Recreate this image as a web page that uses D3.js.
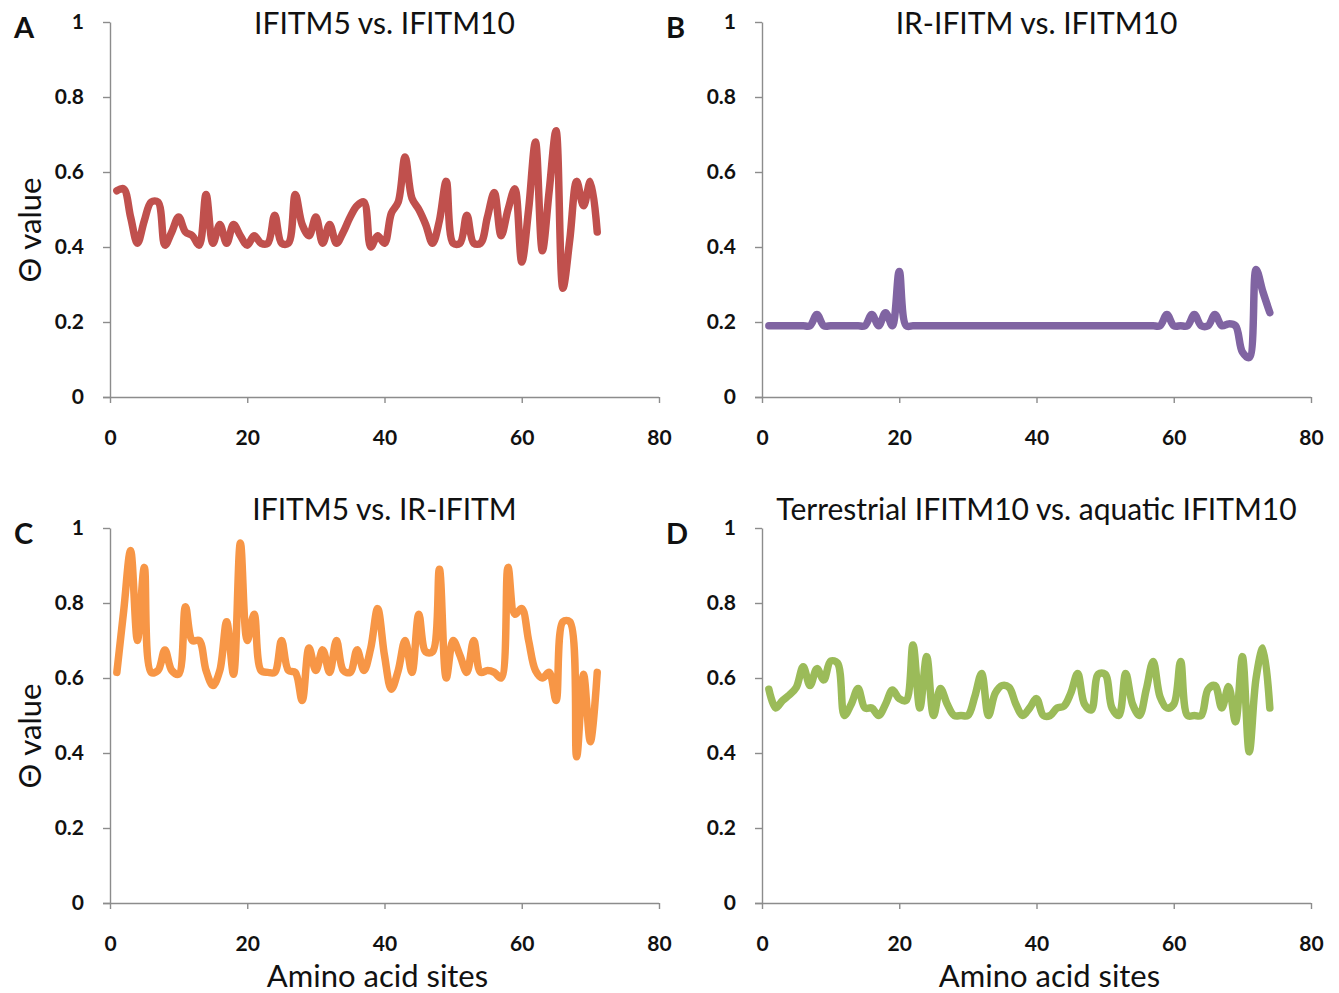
<!DOCTYPE html>
<html>
<head>
<meta charset="utf-8">
<script src="https://d3js.org/d3.v7.min.js"></script>
<style>
body { margin: 0; background: #fff; }
svg { display: block; font-family: Lato, "Open Sans", sans-serif; }
.axis path, .axis line { stroke: #8c8c8c; stroke-width: 1.4px; }
.axis text { font-family: Lato, sans-serif; font-weight: bold; font-size: 21px; fill: #111; }
.title { font-size: 30px; fill: #111; }
.label { font-size: 31px; fill: #111; }
.letter { font-size: 29px; font-weight: bold; fill: #111; }
.series { fill: none; stroke-width: 7.5px; stroke-linecap: round; stroke-linejoin: round; }
</style>
</head>
<body>
<svg width="1339" height="993"></svg>
<script>
// chart values
const xTicks = [0, 20, 40, 60, 80];
const yTicks = [0, 0.2, 0.4, 0.6, 0.8, 1];
const titles = ["IFITM5 vs. IFITM10", "IR-IFITM vs. IFITM10", "IFITM5 vs. IR-IFITM", "Terrestrial IFITM10 vs. aquatic IFITM10"];
const letters = ["A", "B", "C", "D"];
const colors = ["#c0504d", "#8064a2", "#f79646", "#9bbb59"];

const valuesA = [0.55, 0.555, 0.48, 0.41, 0.47, 0.52, 0.52, 0.405, 0.44, 0.48,
  0.44, 0.43, 0.405, 0.54, 0.41, 0.46, 0.41, 0.46, 0.43, 0.405,
  0.43, 0.41, 0.41, 0.485, 0.41, 0.41, 0.54, 0.46, 0.43, 0.48,
  0.41, 0.46, 0.41, 0.44, 0.48, 0.51, 0.52, 0.40, 0.43, 0.41,
  0.49, 0.52, 0.64, 0.53, 0.50, 0.46, 0.41, 0.47, 0.575, 0.41,
  0.41, 0.485, 0.41, 0.41, 0.48, 0.545, 0.43, 0.50, 0.555, 0.36,
  0.50, 0.68, 0.39, 0.55, 0.71, 0.29, 0.42, 0.575, 0.51, 0.575,
  0.44];

const valuesB = [0.19, 0.19, 0.19, 0.19, 0.19, 0.19, 0.19, 0.22, 0.19, 0.19,
  0.19, 0.19, 0.19, 0.19, 0.19, 0.22, 0.19, 0.225, 0.19, 0.335,
  0.19, 0.19, 0.19, 0.19, 0.19, 0.19, 0.19, 0.19, 0.19, 0.19,
  0.19, 0.19, 0.19, 0.19, 0.19, 0.19, 0.19, 0.19, 0.19, 0.19,
  0.19, 0.19, 0.19, 0.19, 0.19, 0.19, 0.19, 0.19, 0.19, 0.19,
  0.19, 0.19, 0.19, 0.19, 0.19, 0.19, 0.19, 0.19, 0.22, 0.19,
  0.19, 0.19, 0.22, 0.19, 0.19, 0.22, 0.19, 0.195, 0.19, 0.12,
  0.105, 0.34, 0.28, 0.225];

const valuesC = [0.615, 0.78, 0.94, 0.70, 0.895, 0.615, 0.62, 0.675, 0.62, 0.61,
  0.79, 0.70, 0.70, 0.62, 0.58, 0.62, 0.75, 0.61, 0.96, 0.70,
  0.77, 0.62, 0.615, 0.615, 0.70, 0.62, 0.615, 0.54, 0.68, 0.62,
  0.675, 0.615, 0.70, 0.62, 0.615, 0.675, 0.62, 0.68, 0.785, 0.66,
  0.57, 0.62, 0.70, 0.615, 0.77, 0.67, 0.67, 0.89, 0.60, 0.70,
  0.66, 0.615, 0.70, 0.615, 0.62, 0.615, 0.60, 0.895, 0.77, 0.785,
  0.70, 0.62, 0.60, 0.615, 0.54, 0.75, 0.75, 0.39, 0.61, 0.43,
  0.615];

const valuesD = [0.57, 0.52, 0.54, 0.555, 0.575, 0.63, 0.58, 0.625, 0.595, 0.645,
  0.64, 0.50, 0.53, 0.572, 0.52, 0.52, 0.50, 0.53, 0.568, 0.545,
  0.54, 0.688, 0.52, 0.657, 0.50, 0.572, 0.53, 0.50, 0.50, 0.50,
  0.55, 0.612, 0.50, 0.56, 0.58, 0.575, 0.53, 0.50, 0.52, 0.545,
  0.50, 0.50, 0.52, 0.525, 0.56, 0.612, 0.53, 0.515, 0.61, 0.61,
  0.52, 0.50, 0.612, 0.53, 0.50, 0.57, 0.644, 0.55, 0.52, 0.53,
  0.644, 0.50, 0.50, 0.50, 0.57, 0.58, 0.52, 0.577, 0.483, 0.657,
  0.403, 0.60, 0.68, 0.52];

const series = [valuesA, valuesB, valuesC, valuesD];

const svg = d3.select("svg");
svg.append("rect").attr("width", 1339).attr("height", 993).attr("fill", "#fff");

const plotW = 549, plotH = 375;
const lefts = [110, 762], tops = [22, 528];
const xLabelShift = [-7, 13];
const titleShift = [1, -19];

series.forEach((values, k) => {
  const col = k % 2, row = Math.floor(k / 2);
  const g = svg.append("g")
    .attr("transform", "translate(" + lefts[col] + "," + tops[row] + ")");

  const x = d3.scaleLinear().domain([0, 80]).range([0, plotW]);
  const y = d3.scaleLinear().domain([0, 1]).range([plotH, 0]);

  g.append("g")
    .attr("class", "axis")
    .attr("transform", "translate(0," + plotH + ")")
    .call(d3.axisBottom(x).tickValues(xTicks).tickSize(6).tickSizeOuter(0).tickPadding(27))
    .call(a => a.select(".domain").attr("d", "M-7,0.5H" + plotW));

  g.append("g")
    .attr("class", "axis")
    .call(d3.axisLeft(y).tickValues(yTicks).tickSize(7).tickSizeOuter(0).tickPadding(19)
      .tickFormat(d => String(d)));

  g.selectAll(".axis").select(".domain").attr("fill", "none");

  const line = d3.line()
    .x((d, i) => x(i + 1))
    .y(d => y(d))
    .curve(d3.curveCatmullRom);

  g.append("path")
    .datum(values)
    .attr("class", "series")
    .attr("stroke", colors[k])
    .attr("d", line);

  g.append("text")
    .attr("class", "title")
    .attr("x", plotW / 2)
    .attr("y", titleShift[row])
    .attr("dy", "0.35em")
    .attr("text-anchor", "middle")
    .text(titles[k]);

  svg.append("text")
    .attr("class", "letter")
    .attr("x", lefts[col] - 96)
    .attr("y", tops[row] + 6)
    .attr("dy", "0.35em")
    .text(letters[k]);

  if (col === 0) {
    svg.append("text")
      .attr("class", "label")
      .attr("transform", "translate(30," + (tops[row] + 208) + ") rotate(-90)")
      .attr("dy", "0.35em")
      .attr("text-anchor", "middle")
      .text("Θ value");
  }
  if (row === 1) {
    g.append("text")
      .attr("class", "label")
      .attr("x", plotW / 2 + xLabelShift[col])
      .attr("y", plotH + 62)
      .attr("dy", "0.7em")
      .attr("text-anchor", "middle")
      .text("Amino acid sites");
  }
});
</script>
</body>
</html>
